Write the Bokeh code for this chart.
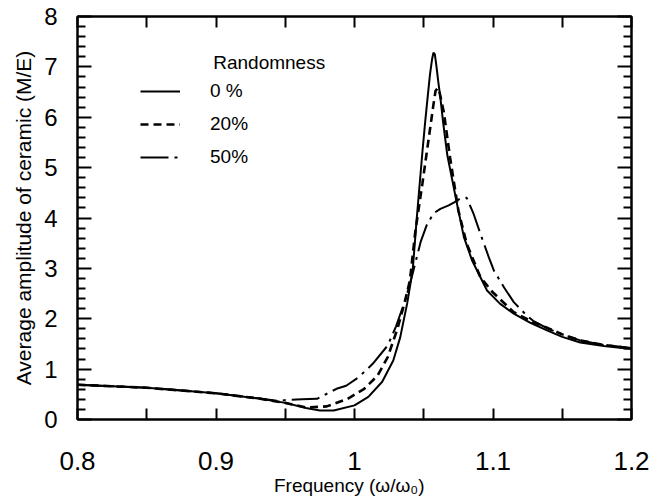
from bokeh.plotting import figure
from bokeh.models import (LinearAxis, Range1d, Legend, LegendItem, Label,
                          FixedTicker, CustomJSTickFormatter)
from bokeh.embed import file_html
from bokeh.resources import INLINE

# ---- data ----
freq_0 = [0.80, 0.85, 0.90, 0.93, 0.95, 0.965, 0.975, 0.985, 1.00, 1.01, 1.02, 1.028,
          1.033, 1.038, 1.042, 1.045, 1.049, 1.051, 1.053, 1.0545, 1.056, 1.057, 1.058,
          1.059, 1.0605, 1.062, 1.064, 1.067, 1.074, 1.079, 1.085, 1.091, 1.0957, 1.105,
          1.115, 1.127, 1.139, 1.15, 1.163, 1.18, 1.20]
amp_0 = [0.69, 0.63, 0.52, 0.42, 0.33, 0.23, 0.18, 0.18, 0.28, 0.45, 0.75, 1.17,
         1.63, 2.30, 2.96, 4.01, 5.30, 5.90, 6.45, 6.85, 7.15, 7.28, 7.25,
         7.05, 6.70, 6.39, 5.90, 5.25, 4.28, 3.62, 3.15, 2.82, 2.56, 2.30,
         2.10, 1.92, 1.77, 1.64, 1.53, 1.46, 1.40]

freq_20 = [0.80, 0.85, 0.90, 0.93, 0.95, 0.965, 0.98, 0.995, 1.007, 1.0166, 1.024, 1.031,
           1.036, 1.040, 1.044, 1.049, 1.0537, 1.057, 1.0585, 1.060, 1.0615, 1.0645,
           1.069, 1.075, 1.081, 1.091, 1.10, 1.115, 1.127, 1.14, 1.15, 1.163, 1.18, 1.20]
amp_20 = [0.69, 0.63, 0.52, 0.42, 0.33, 0.24, 0.26, 0.41, 0.61, 0.87, 1.24, 1.80,
          2.30, 2.76, 3.75, 4.68, 5.60, 6.25, 6.52, 6.58, 6.48, 6.10,
          5.20, 4.15, 3.49, 2.82, 2.52, 2.13, 1.96, 1.81, 1.69, 1.57, 1.48, 1.41]

freq_50 = [0.80, 0.85, 0.90, 0.93, 0.945, 0.952, 0.962, 0.973, 0.987, 0.994, 1.003, 1.013,
           1.024, 1.03, 1.037, 1.042, 1.0477, 1.052, 1.057, 1.062, 1.068, 1.072, 1.077,
           1.081, 1.086, 1.091, 1.097, 1.1006, 1.108, 1.115, 1.1245, 1.129, 1.14, 1.152,
           1.163, 1.18, 1.20]
amp_50 = [0.69, 0.63, 0.52, 0.42, 0.37, 0.39, 0.40, 0.41, 0.61, 0.67, 0.84, 1.10,
          1.47, 1.85, 2.40, 2.90, 3.52, 3.85, 4.09, 4.18, 4.25, 4.31, 4.40,
          4.40, 4.08, 3.68, 3.22, 2.96, 2.62, 2.33, 2.06, 1.96, 1.80, 1.67,
          1.57, 1.48, 1.42]

x_ticks = [0.8, 0.9, 1.0, 1.1, 1.2]
x_minor_ticks = [0.85, 0.95, 1.05, 1.15]
y_ticks = [0, 1, 2, 3, 4, 5, 6, 7, 8]
y_minor_ticks = [i / 5 for i in range(41) if i % 5 != 0]

series_labels = ["0 %", "20%", "50%"]
legend_title = "Randomness"
x_label = "Frequency   (\u03c9/\u03c9\u2080)"
y_label = "Average amplitude of ceramic (M/E)"

FONT = "Liberation Sans"

p = figure(width=653, height=501, x_range=Range1d(0.8, 1.2), y_range=Range1d(0, 8),
           output_backend="svg", toolbar_location=None,
           min_border_left=77, min_border_right=22, min_border_top=16, min_border_bottom=82)
p.background_fill_color = "white"
p.border_fill_color = "white"
p.grid.visible = False
p.outline_line_color = "black"
p.outline_line_width = 2

r0 = p.line(freq_0, amp_0, line_color="black", line_width=2)
r20 = p.line(freq_20, amp_20, line_color="black", line_width=2.6, line_dash="8 5")
r50 = p.line(freq_50, amp_50, line_color="black", line_width=2, line_dash="28 6 3 6")

fmt = CustomJSTickFormatter(code="return (Math.round(tick*10)/10).toString();")
blank = CustomJSTickFormatter(code="return '';")

def style_x(ax, labels=True):
    ax.ticker = FixedTicker(ticks=x_ticks, minor_ticks=x_minor_ticks)
    ax.major_tick_in = 11
    ax.major_tick_out = 0
    ax.minor_tick_in = 11
    ax.minor_tick_out = 0
    ax.axis_line_width = 2
    ax.major_tick_line_width = 2
    ax.minor_tick_line_width = 2
    if labels:
        ax.formatter = fmt
        ax.major_label_text_font = FONT
        ax.major_label_text_font_size = "26px"
        ax.major_label_text_color = "black"
        ax.major_label_standoff = 32
    else:
        ax.formatter = blank
        ax.major_label_standoff = 0

def style_y(ax, labels=True):
    ax.ticker = FixedTicker(ticks=y_ticks, minor_ticks=y_minor_ticks)
    ax.major_tick_in = 14
    ax.major_tick_out = 0
    ax.minor_tick_in = 8
    ax.minor_tick_out = 0
    ax.axis_line_width = 2
    ax.major_tick_line_width = 2
    ax.minor_tick_line_width = 2
    if labels:
        ax.major_label_text_font = FONT
        ax.major_label_text_font_size = "24px"
        ax.major_label_text_color = "black"
        ax.major_label_standoff = 20
    else:
        ax.formatter = blank
        ax.major_label_standoff = 0

style_x(p.xaxis[0])
style_y(p.yaxis[0])
p.xaxis[0].axis_label = x_label
p.xaxis[0].axis_label_text_font = FONT
p.xaxis[0].axis_label_text_font_size = "19px"
p.xaxis[0].axis_label_text_font_style = "normal"
p.xaxis[0].axis_label_text_color = "black"
p.xaxis[0].axis_label_standoff = 2
p.yaxis[0].axis_label = y_label
p.yaxis[0].axis_label_text_font = FONT
p.yaxis[0].axis_label_text_font_size = "21px"
p.yaxis[0].axis_label_text_font_style = "normal"
p.yaxis[0].axis_label_text_color = "black"
p.yaxis[0].axis_label_standoff = 6

top = LinearAxis()
style_x(top, labels=False)
p.add_layout(top, "above")
right = LinearAxis()
style_y(right, labels=False)
p.add_layout(right, "right")

legend = Legend(items=[LegendItem(label=series_labels[0], renderers=[r0]),
                       LegendItem(label=series_labels[1], renderers=[r20]),
                       LegendItem(label=series_labels[2], renderers=[r50])],
                location=(63, 251), orientation="vertical")
legend.background_fill_alpha = 0
legend.border_line_color = None
legend.padding = 0
legend.margin = 0
legend.glyph_width = 40
legend.glyph_height = 20
legend.label_height = 20
legend.spacing = 11
legend.label_standoff = 30
legend.label_text_font = FONT
legend.label_text_font_size = "19px"
legend.label_text_color = "black"
p.add_layout(legend)

p.add_layout(Label(x=0.898, y=7.08, text=legend_title, text_font=FONT,
                   text_font_size="19px", text_baseline="middle", text_color="black"))

open("out.html", "w").write(file_html(p, INLINE))
